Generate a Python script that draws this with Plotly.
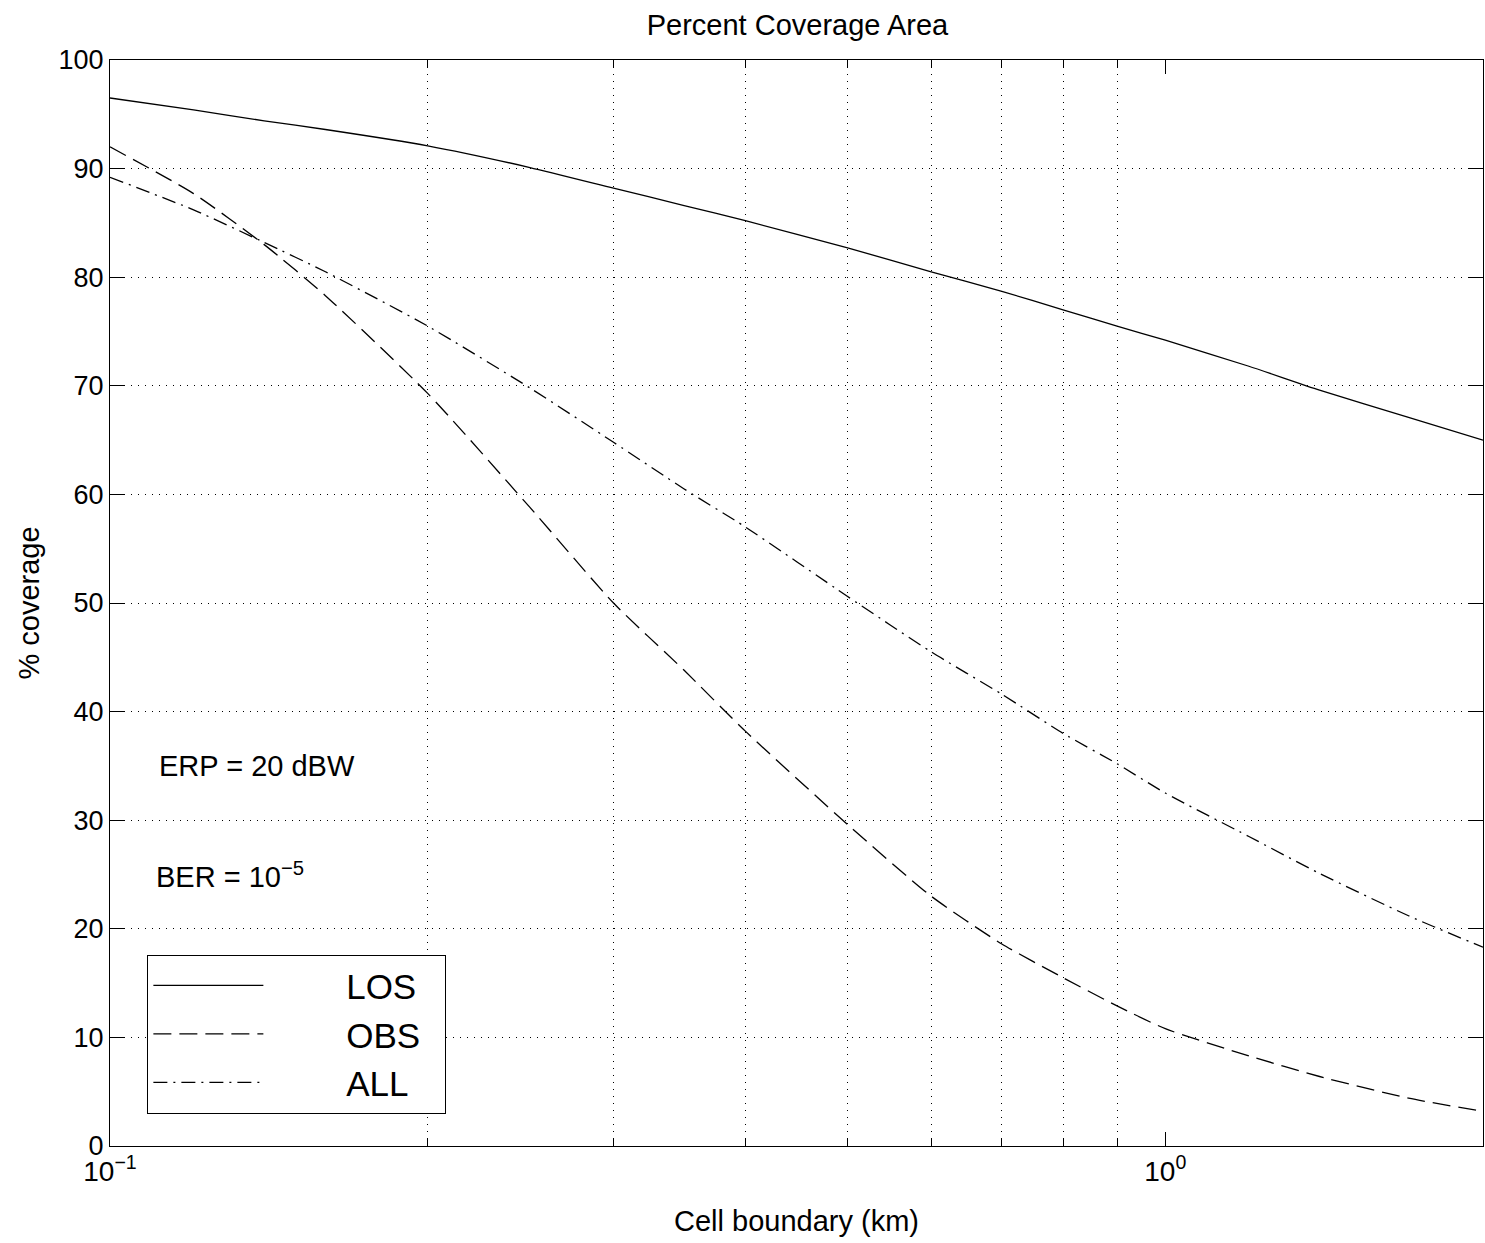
import plotly.graph_objects as go

# Cell boundary (km)
cell_km = [0.1, 0.12, 0.14, 0.16, 0.2, 0.25, 0.3, 0.35, 0.4, 0.5, 0.6, 0.7,
           0.8, 0.9, 1.0, 1.2, 1.4, 1.7, 2.0]
# % coverage
los = [96.5, 95.4, 94.4, 93.6, 92.1, 90.1, 88.2, 86.6, 85.2, 82.7, 80.5, 78.7,
       77.0, 75.5, 74.2, 71.8, 69.6, 67.1, 65.0]
obs = [92.0, 87.7, 83.0, 78.3, 69.3, 58.8, 50.0, 43.8, 38.2, 29.6, 23.0, 18.6,
       15.5, 12.9, 10.8, 8.3, 6.4, 4.4, 3.2]
all_ = [89.2, 86.2, 83.2, 80.5, 75.5, 69.8, 64.8, 60.5, 57.0, 50.6, 45.5, 41.6,
        38.0, 35.2, 32.5, 28.5, 25.1, 21.2, 18.3]

x_major = [0.1, 1.0]
x_major_text = ["10<sup>\u22121</sup>", "10<sup>0</sup>"]
x_minor = [0.2, 0.3, 0.4, 0.5, 0.6, 0.7, 0.8, 0.9, 2.0]
y_ticks = [0, 10, 20, 30, 40, 50, 60, 70, 80, 90, 100]

FONT = "Liberation Sans, Arial, Helvetica, sans-serif"
PAD = "\u00a0" * 8
TAIL = "\u00a0" * 2

fig = go.Figure()
series = [("LOS", los, "solid"), ("OBS", obs, "18px,8px"), ("ALL", all_, "14px,6px,2px,6px")]
for name, vals, dash in series:
    fig.add_trace(go.Scatter(
        x=cell_km, y=vals, mode="lines", name=PAD + name + TAIL,
        line=dict(color="black", width=1.3, dash=dash, shape="spline", smoothing=0.6),
    ))

grid = dict(gridcolor="black", gridwidth=1, griddash="1px,6px")

fig.update_layout(
    width=1485, height=1243,
    paper_bgcolor="white", plot_bgcolor="white",
    margin=dict(l=110, r=2, t=60, b=97),
    font=dict(family=FONT, size=26, color="black"),
    title=dict(text="Percent Coverage Area", x=0.537, xanchor="center",
               y=1 - 25 / 1243, yanchor="middle", font=dict(size=29)),
    showlegend=True,
    legend=dict(x=0.027, y=0.176, xanchor="left", yanchor="top",
                bgcolor="white", bordercolor="black", borderwidth=1.3,
                font=dict(size=35), itemwidth=110, tracegroupgap=0),
)

fig.update_xaxes(
    type="log", range=[-1, 0.30103],
    tickvals=x_major, ticktext=x_major_text,
    ticks="inside", ticklen=14, tickcolor="black", tickwidth=1.2,
    showline=True, linecolor="black", linewidth=1.3, mirror="ticks",
    showgrid=False, zeroline=False,
    minor=dict(tickvals=x_minor, ticks="inside", ticklen=8, tickcolor="black",
               showgrid=True, **grid),
    title=dict(text="Cell boundary (km)", font=dict(size=29), standoff=24),
    tickfont=dict(size=28),
)
fig.update_yaxes(
    range=[0, 100], tickvals=y_ticks,
    ticks="inside", ticklen=14, tickcolor="black", tickwidth=1.2,
    showline=True, linecolor="black", linewidth=1.3, mirror="ticks",
    showgrid=True, zeroline=False, **grid,
    title=dict(text="% coverage", font=dict(size=29), standoff=10),
    tickfont=dict(size=27),
)

fig.add_annotation(xref="paper", yref="y", x=0.034, y=35, text="ERP = 20 dBW",
                   showarrow=False, xanchor="left", yanchor="middle", font=dict(size=29))
fig.add_annotation(xref="paper", yref="y", x=0.032, y=25, text="BER = 10<sup>\u22125</sup>",
                   showarrow=False, xanchor="left", yanchor="middle", font=dict(size=29))

fig.write_html("out.html", config={"displayModeBar": False},
               post_script="document.body.style.margin='0';")
